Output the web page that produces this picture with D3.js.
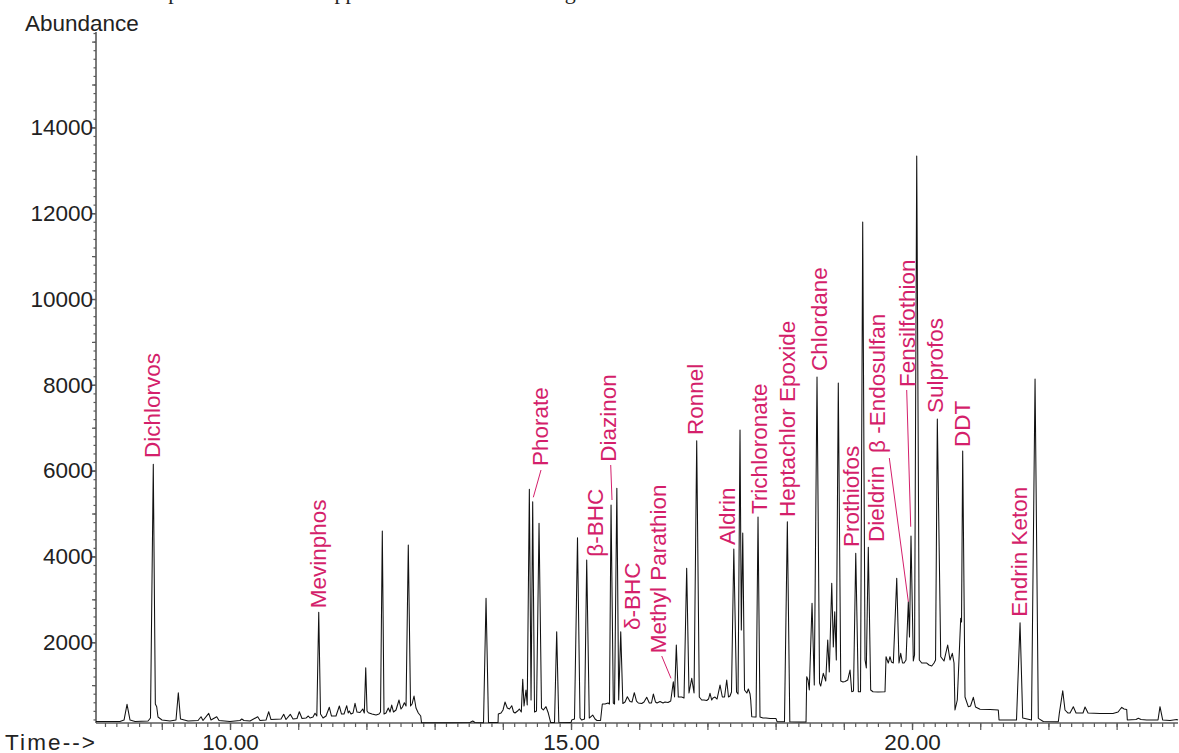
<!DOCTYPE html>
<html><head><meta charset="utf-8">
<script src="https://cdn.jsdelivr.net/npm/d3@7/dist/d3.min.js"></script>
<style>body{margin:0;background:#fff}svg{display:block}</style>
</head><body><svg id="c" width="1179" height="753"></svg>
<script>
// ---- DATA ----
const times = [8.035,8.387,8.446,8.490,8.534,8.607,8.798,8.834,8.875,8.905,8.925,8.944,9.003,9.120,9.208,9.242,9.274,9.384,9.531,9.575,9.604,9.688,9.721,9.805,9.839,10.000,10.147,10.172,10.205,10.293,10.406,10.440,10.528,10.567,10.601,10.748,10.787,10.821,10.884,10.924,10.982,11.016,11.056,11.114,11.148,11.173,11.217,11.246,11.273,11.301,11.327,11.364,11.408,11.456,11.488,11.554,11.603,11.635,11.672,11.711,11.733,11.749,11.774,11.804,11.833,11.862,11.906,11.946,11.969,11.990,12.009,12.028,12.082,12.141,12.185,12.207,12.233,12.258,12.287,12.321,12.346,12.371,12.397,12.434,12.478,12.507,12.529,12.556,12.581,12.614,12.647,12.669,12.698,12.727,12.761,12.796,12.808,13.226,13.519,13.559,13.592,13.717,13.754,13.790,13.930,13.934,13.974,14.003,14.032,14.066,14.098,14.131,14.157,14.179,14.216,14.242,14.271,14.292,14.311,14.340,14.358,14.389,14.414,14.438,14.465,14.494,14.531,14.567,14.594,14.633,14.667,14.702,14.758,14.790,14.821,15.000,15.010,15.051,15.095,15.132,15.157,15.198,15.230,15.268,15.318,15.352,15.381,15.433,15.459,15.499,15.543,15.564,15.587,15.620,15.638,15.672,15.699,15.729,15.760,15.792,15.826,15.865,15.894,15.928,15.960,15.987,16.037,16.070,16.110,16.148,16.180,16.207,16.239,16.261,16.305,16.349,16.378,16.422,16.462,16.500,16.518,16.544,16.573,16.623,16.657,16.696,16.730,16.770,16.804,16.843,16.881,16.916,16.950,16.990,17.016,17.038,17.063,17.082,17.111,17.141,17.185,17.219,17.251,17.283,17.309,17.331,17.353,17.387,17.427,17.449,17.478,17.497,17.518,17.544,17.578,17.600,17.625,17.635,17.650,17.698,17.713,17.742,17.771,17.815,17.859,17.918,18.006,18.021,18.130,18.172,18.208,18.358,18.446,18.456,18.475,18.494,18.534,18.567,18.607,18.644,18.661,18.699,18.735,18.764,18.787,18.823,18.846,18.867,18.890,18.919,18.955,18.988,19.018,19.057,19.091,19.116,19.142,19.175,19.213,19.245,19.277,19.311,19.330,19.359,19.394,19.428,19.501,19.604,19.619,19.652,19.677,19.699,19.726,19.776,19.809,19.834,19.861,19.883,19.912,19.946,19.963,19.985,20.019,20.037,20.069,20.107,20.142,20.216,20.249,20.289,20.323,20.345,20.371,20.421,20.469,20.523,20.557,20.591,20.616,20.630,20.664,20.714,20.726,20.743,20.777,20.825,20.858,20.899,20.931,20.997,21.144,21.265,21.276,21.532,21.584,21.623,21.752,21.804,21.852,21.925,22.145,22.160,22.210,22.243,22.287,22.317,22.365,22.405,22.507,22.537,22.581,22.757,22.947,23.021,23.075,23.109,23.148,23.157,23.284,23.318,23.358,23.441,23.607,23.636,23.676,23.783,23.881,23.900];
const abundance = [152,152,186,552,186,152,163,233,6147,559,497,256,186,163,186,823,210,163,175,263,175,343,186,263,175,152,175,210,175,163,263,175,186,380,198,210,319,198,319,210,221,380,221,233,280,233,256,343,280,2697,326,233,280,483,280,280,513,326,326,520,350,396,326,350,576,373,361,443,350,1406,396,357,326,303,326,373,4592,326,350,466,373,536,373,420,653,443,490,590,513,4266,513,559,746,466,350,280,124,124,128,163,128,124,3023,128,128,326,350,420,606,466,443,520,373,350,396,443,373,1135,513,886,536,5564,653,5275,373,396,4772,466,420,497,350,128,128,2245,133,128,186,210,4436,233,186,210,3916,233,303,210,175,175,559,559,583,559,5198,583,559,5587,653,2245,571,606,730,618,606,823,629,583,571,606,716,583,583,793,606,583,618,583,606,594,629,1079,723,1935,723,723,699,3723,816,1159,816,6697,723,653,653,641,676,809,653,699,723,676,1002,723,723,1119,723,746,839,4172,839,793,6946,2284,4545,886,816,909,793,653,263,256,256,4918,256,233,233,221,221,147,147,4809,147,140,140,1196,1119,886,2907,1002,8182,1049,979,1275,1096,2051,1305,3373,1888,2711,1585,8042,1096,1072,1084,1119,1352,846,862,4072,846,846,11795,1585,1399,4212,886,846,839,846,1662,1515,1662,1538,1515,3489,1515,1741,1515,1515,1585,2944,2121,4476,1562,1702,13333,1585,1515,1515,1469,1445,1515,1585,7203,1662,1562,1935,1585,1741,1515,420,653,2557,2471,6457,723,497,513,716,490,436,431,420,186,186,2455,233,186,8135,226,152,147,343,869,420,350,350,497,350,350,490,350,338,338,373,483,443,431,186,198,226,198,186,186,497,186,175,198,186];

const yTickLabels = [2000,4000,6000,8000,10000,12000,14000];
const xTickLabels = [10,15,20];

const peakNames  = ["Dichlorvos","Mevinphos","Phorate","\u03B2-BHC","Diazinon","\u03B4-BHC","Methyl Parathion","Ronnel","Aldrin","Trichloronate","Heptachlor Epoxide","Chlordane","Prothiofos","Dieldrin","\u03B2 -Endosulfan","Fensilfothion","Sulprofos","DDT","Endrin Keton"];
const labelTimes = [8.862,11.290,14.553,15.352,15.543,15.895,16.283,16.818,17.283,17.757,18.167,18.637,19.106,19.480,19.487,19.927,20.345,20.741,21.569];
const labelAbund = [6294,2790,6107,3993,6207,2284,1741,6830,4266,4988,4918,8322,4219,4336,6410,7949,7343,6550,2594];

// leader lines: label -> peak
const leaderFromT = [14.560,15.582,16.330,19.667,19.922];
const leaderFromV = [6014,6131,1678,6294,7879];
const leaderToT   = [14.447,15.601,16.466,19.946,19.981];
const leaderToV   = [5378,5315,1159,2944,4692];

const caption = "Example of the GCMS application for the screening";

// ---- DRAW ----
const svg = d3.select("#c");
svg.append("rect").attr("width",1179).attr("height",753).attr("fill","#fff");
const x = d3.scaleLinear().domain([8.035, 23.90]).range([96, 1178]);
const y = d3.scaleLinear().domain([117, 16224]).range([723, 32]);
const FONT = "'Liberation Sans', Arial, Helvetica, sans-serif";
const AX = "#5a5a5a";
const LBL = "#d41f6b";

// caption line above the figure, cut off by the top edge (only descenders show)
svg.append("text").attr("x",117).attr("y",-1.5)
  .attr("font-family","'Liberation Serif','Times New Roman',serif")
  .attr("font-size",22).attr("fill","#222").text(caption);

function styleAxis(g){ g.selectAll("line").attr("stroke",AX).attr("stroke-width",1.2); g.select(".domain").remove(); }
// y axis: minor, medium, labelled ticks
svg.append("g").attr("transform","translate(96,0)")
  .call(d3.axisLeft(y).tickValues(d3.range(200,16201,200)).tickSize(2.5).tickFormat(""))
  .call(styleAxis);
svg.append("g").attr("transform","translate(96,0)")
  .call(d3.axisLeft(y).tickValues(d3.range(1000,16001,1000)).tickSize(4).tickFormat(""))
  .call(styleAxis);
const yg = svg.append("g").attr("transform","translate(96,0)")
  .call(d3.axisLeft(y).tickValues(yTickLabels).tickSize(4).tickPadding(-1).tickFormat(d3.format("d")));
yg.call(styleAxis);
yg.selectAll("text").attr("font-family",FONT).attr("font-size",22.5).attr("fill","#222");

// x axis: minor, minute, labelled ticks
svg.append("g").attr("transform","translate(0,723)")
  .call(d3.axisBottom(x).tickValues(d3.range(49,144).map(i=>i/6)).tickSize(4).tickFormat(""))
  .call(styleAxis);
svg.append("g").attr("transform","translate(0,723)")
  .call(d3.axisBottom(x).tickValues(d3.range(9,24)).tickSize(7).tickFormat(""))
  .call(styleAxis);
const xg = svg.append("g").attr("transform","translate(0,723)")
  .call(d3.axisBottom(x).tickValues(xTickLabels).tickSize(7).tickPadding(4).tickFormat(d3.format(".2f")));
xg.call(styleAxis);
xg.selectAll("text").attr("font-family",FONT).attr("font-size",22.5).attr("fill","#222");

// axis lines
svg.append("line").attr("x1",96).attr("x2",96).attr("y1",y.range()[1]).attr("y2",723)
  .attr("stroke",AX).attr("stroke-width",1.6);
svg.append("line").attr("x1",96).attr("x2",1178).attr("y1",723).attr("y2",723)
  .attr("stroke",AX).attr("stroke-width",1.6);

svg.append("text").attr("x",25).attr("y",30.5).attr("font-family",FONT).attr("font-size",22.5).attr("fill","#222").text("Abundance");
svg.append("text").attr("x",5).attr("y",750).attr("font-family",FONT).attr("font-size",22.5).attr("fill","#222")
  .attr("textLength",90).attr("lengthAdjust","spacing").text("Time-->");

// trace
const pts = times.map((t,i)=>[t, abundance[i]]);
svg.append("path").datum(pts)
  .attr("d", d3.line().x(d=>x(d[0])).y(d=>y(d[1])))
  .attr("fill","none").attr("stroke","#111").attr("stroke-width",1.05).attr("stroke-linejoin","round");

// leader lines
svg.append("g").selectAll("line").data(leaderFromT).join("line")
  .attr("x1",(d,i)=>x(d)).attr("y1",(d,i)=>y(leaderFromV[i]))
  .attr("x2",(d,i)=>x(leaderToT[i])).attr("y2",(d,i)=>y(leaderToV[i]))
  .attr("stroke",LBL).attr("stroke-width",1);

// peak labels
svg.append("g").selectAll("text").data(peakNames).join("text")
  .attr("transform",(d,i)=>`translate(${x(labelTimes[i])},${y(labelAbund[i])}) rotate(-90)`)
  .attr("dy","0.35em").attr("text-anchor","start")
  .attr("font-family",FONT).attr("font-size",22.5).attr("fill",LBL).text(d=>d);
</script></body></html>
